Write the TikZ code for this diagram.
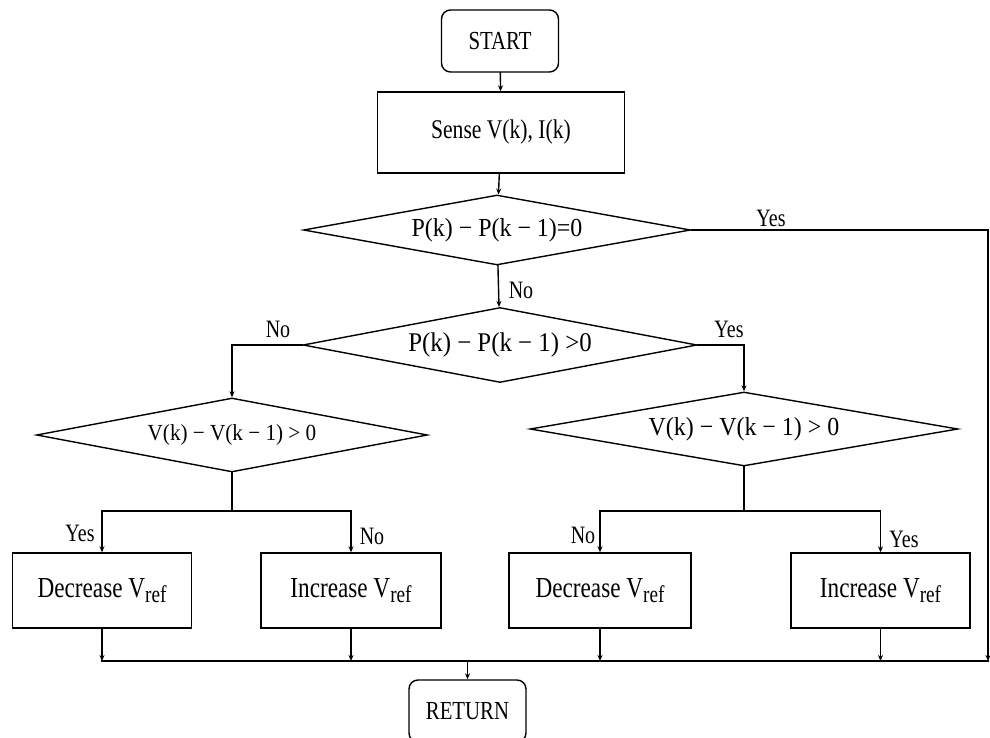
\documentclass[tikz,border=0pt]{standalone}
\usepackage{fontspec}
\setmainfont{Liberation Serif}[FakeStretch=0.8]
\newfontfamily\formfont{Liberation Serif}[FakeStretch=0.92]
\usetikzlibrary{shapes.geometric,arrows.meta}

\tikzset{
  line/.style={line width=1.4pt, line cap=rect},
  arr/.style={line, -{Stealth[length=6pt,width=5pt]}},
  terminal/.style={draw, line width=1.4pt, rectangle, rounded corners=9pt,
    inner sep=0pt, minimum width=117pt, minimum height=62pt,
    font=\fontsize{26}{28}\selectfont},
  stepbox/.style={draw, line width=1.4pt, rectangle, inner sep=0pt,
    minimum height=75pt, font=\fontsize{29}{31}\selectfont},
  decision/.style={draw, line width=1.4pt, diamond, aspect=6, inner sep=0pt,
    font=\formfont\fontsize{26}{28}\selectfont},
  lbl/.style={inner sep=0pt, font=\fontsize{25}{27}\selectfont}
}
\newcommand{\vref}{V\raisebox{-0.4ex}{\fontsize{24}{24}\selectfont ref}}

\begin{document}
\begin{tikzpicture}[x=1pt,y=-1pt]
  \useasboundingbox (0,0) rectangle (990,738);

  % terminals and process steps
  \node[terminal] (start) at (500,41) {START};
  \node[stepbox, minimum width=247pt, minimum height=81pt, font=\fontsize{27}{29}\selectfont] (sense) at (501,132.5) {Sense V(k), I(k)};

  % decisions
  \node[decision, minimum width=387pt, minimum height=70pt] (d1) at (497,230) {P(k) − P(k − 1)=0};
  \node[decision, minimum width=394pt, minimum height=75pt, font=\formfont\fontsize{27}{29}\selectfont] (d2) at (500,345) {P(k) − P(k − 1) >0};
  \node[decision, minimum width=391pt, minimum height=74pt, font=\formfont\fontsize{23}{25}\selectfont] (d3) at (232,435) {V(k) − V(k − 1) > 0};
  \node[decision, minimum width=428pt, minimum height=74pt] (d4) at (744,429) {V(k) − V(k − 1) > 0};

  % reference voltage updates
  \node[stepbox, minimum width=179pt] (b1) at (102,590.5) {Decrease \vref};
  \node[stepbox, minimum width=180pt] (b2) at (351,590.5) {Increase \vref};
  \node[stepbox, minimum width=182pt] (b3) at (600,590.5) {Decrease \vref};
  \node[stepbox, minimum width=179pt] (b4) at (880.5,590.5) {Increase \vref};

  \node[terminal] (ret) at (467.5,711) {RETURN};

  % junction points
  \coordinate (yesR) at (988,230);
  \coordinate (busR) at (988,661);
  \coordinate (busL) at (102,661);
  \coordinate (s3) at (232,511);
  \coordinate (s4) at (744,511);

  % main path
  \draw[arr] (start) -- (sense);
  \draw[arr] (sense) -- (d1);
  \draw[arr] (d1) -- (d2);
  \draw[line] (d1.east) -- (yesR);
  \draw[arr] (yesR) -- (busR);

  % branches of the second decision
  \draw[arr] (d2.west) -| (d3.north);
  \draw[arr] (d2.east) -| (d4.north);

  % left split
  \draw[line] (d3.south) -- (s3);
  \draw[arr] (s3) -| (b1.north);
  \draw[arr] (s3) -| (b2.north);

  % right split
  \draw[line] (d4.south) -- (s4);
  \draw[arr] (s4) -| (b3.north);
  \draw[arr] (s4) -| (b4.north);

  % collecting bus
  \draw[line] (busL) -- (busR);
  \draw[arr] (b1.south) -- (b1.south |- busL);
  \draw[arr] (b2.south) -- (b2.south |- busL);
  \draw[arr] (b3.south) -- (b3.south |- busL);
  \draw[arr] (b4.south) -- (b4.south |- busL);
  \draw[arr] (ret.north |- busL) -- (ret.north);

  % branch labels
  \node[lbl] (l1) at (771,218) {Yes};
  \node[lbl] (l2) at (521,290) {No};
  \node[lbl] (l3) at (278,329) {No};
  \node[lbl] (l4) at (729,329) {Yes};
  \node[lbl] (l5) at (80,533) {Yes};
  \node[lbl] (l6) at (372,536) {No};
  \node[lbl] (l7) at (583,535) {No};
  \node[lbl] (l8) at (904,539) {Yes};
\end{tikzpicture}
\end{document}
